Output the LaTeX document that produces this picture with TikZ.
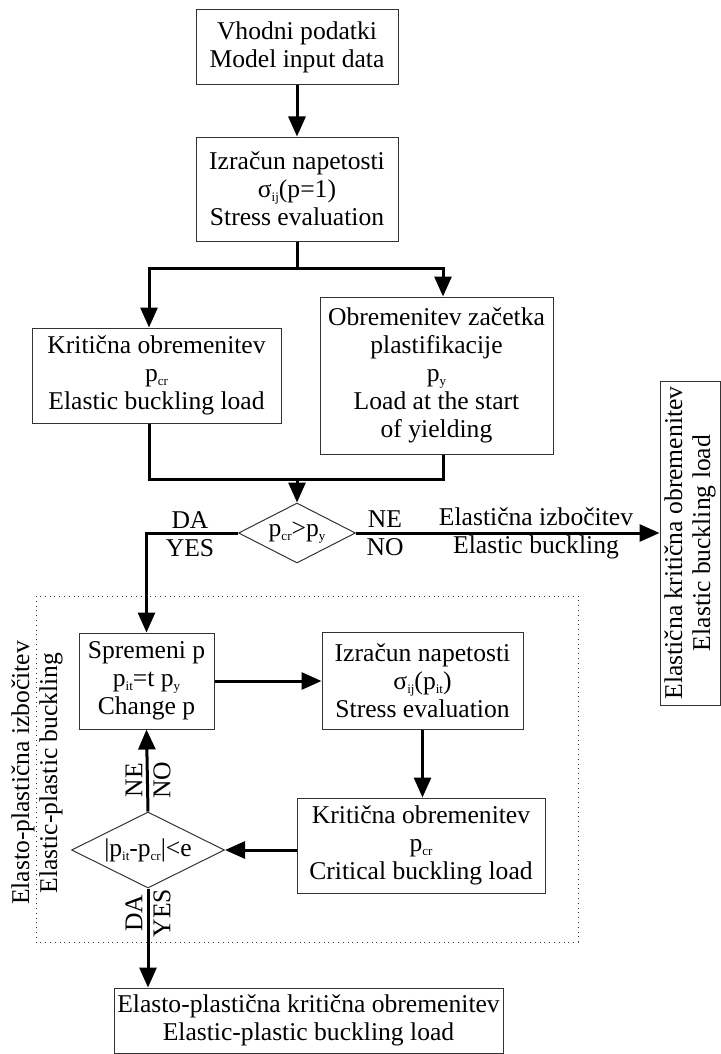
\documentclass[tikz,border=0pt]{standalone}
\usepackage{fontspec}
\setmainfont{Liberation Serif}
\usetikzlibrary{arrows.meta,shapes.geometric}

% small lowered index, as in p_cr
\newcommand{\lowidx}[1]{\raisebox{-0.35ex}{\fontsize{6.5}{6.5}\selectfont #1}}

\begin{document}
\begin{tikzpicture}[x=0.5pt,y=-0.5pt,font=\fontsize{12.8}{14}\selectfont]
  % Styles
  \tikzstyle{box}=[draw=black!80,line width=0.5pt,align=center,inner sep=1pt]
  \tikzstyle{decision}=[draw=black!80,line width=0.5pt,diamond,aspect=2,inner sep=0pt]
  \tikzstyle{link}=[line width=1.5pt]
  \tikzstyle{flow}=[link,-{Triangle[length=10pt,width=8.5pt]}]
  \tikzstyle{answer}=[align=center,inner sep=0pt]

  \useasboundingbox (0,0) rectangle (721,1054);

  % The boxes
  \node[box,minimum width=101pt,minimum height=37.5pt] (input) at (297,47.5)
    {Vhodni podatki\\Model input data};
  \node[box,minimum width=101pt,minimum height=52pt] (stress) at (297,189)
    {Izračun napetosti\\σ\lowidx{ij}(p=1)\\Stress evaluation};
  \node[box,minimum width=124.5pt,minimum height=47.5pt] (crit) at (156.5,375.5)
    {Kritična obremenitev\\p\lowidx{cr}\\Elastic buckling load};
  \node[box,minimum width=116.5pt,minimum height=78.5pt] (yield) at (436.5,375.5)
    {Obremenitev začetka\\plastifikacije\\p\lowidx{y}\\Load at the start\\of yielding};
  \node[decision,minimum width=58.5pt,minimum height=30pt] (check) at (297,533)
    {p\lowidx{cr}>p\lowidx{y}};
  \node[box,rotate=90,minimum width=162pt,minimum height=30pt] (elastic) at (690,543)
    {Elastična kritična obremenitev\\Elastic buckling load};

  % Elasto-plastic loop
  \draw[dotted,line width=0.4pt,black!80] (36,596) rectangle (578,942);
  \node[answer,rotate=90] (looplabel) at (37,773)
    {Elasto-plastična izbočitev\\Elastic-plastic buckling};
  \node[box,minimum width=67.5pt,minimum height=48pt] (change) at (146.5,681)
    {Spremeni p\\p\lowidx{it}=t p\lowidx{y}\\Change p};
  \node[box,minimum width=100.5pt,minimum height=48.5pt] (stress2) at (422.5,680.5)
    {Izračun napetosti\\σ\lowidx{ij}(p\lowidx{it})\\Stress evaluation};
  \node[box,minimum width=124pt,minimum height=47.5pt] (crit2) at (421,845.5)
    {Kritična obremenitev\\p\lowidx{cr}\\Critical buckling load};
  \node[decision,minimum width=76.5pt,minimum height=38pt] (conv) at (148,850)
    {|p\lowidx{it}-p\lowidx{cr}|<e};
  \node[box,minimum width=194.5pt,minimum height=32.5pt] (result) at (308.5,1020.5)
    {Elasto-plastična kritična obremenitev\\Elastic-plastic buckling load};

  % Connectors
  \coordinate (split) at (297,268);
  \coordinate (join) at (297,479);
  \draw[flow] (input) -- (stress);
  \draw[link] (stress.south) -- (split);
  \draw[flow] (split) -| ([xshift=-3.75pt]crit.north);
  \draw[flow] (split) -| ([xshift=3.25pt]yield.north);
  \draw[link] ([xshift=-3.75pt]crit.south) |- (join);
  \draw[link] ([xshift=3.25pt]yield.south) |- (join);
  \draw[flow] (join) -- (check.north);
  \draw[flow] (check.west) -| (change.north);
  \draw[flow] (check.east) -- (check.east -| elastic.north);
  \draw[flow] (change.east) -- (change.east -| stress2.west);
  \draw[flow] (stress2.south) -- (stress2.south |- crit2.north);
  \draw[flow] (conv.east -| crit2.west) -- (conv.east);
  \draw[flow] (conv.north) -- (change.south);
  \draw[flow] (conv.south) -- (conv.south |- result.north);

  % Answers
  \node[answer] (yes1) at (190,534) {DA\\YES};
  \node[answer] (no1) at (385,533) {NE\\NO};
  \node[answer] (elnote) at (536,533) {Elastična izbočitev\\Elastic buckling};
  \node[answer,rotate=90] (no2) at (148,780) {NE\\NO};
  \node[answer,rotate=90] (yes2) at (148,913) {DA\\YES};
\end{tikzpicture}
\end{document}
